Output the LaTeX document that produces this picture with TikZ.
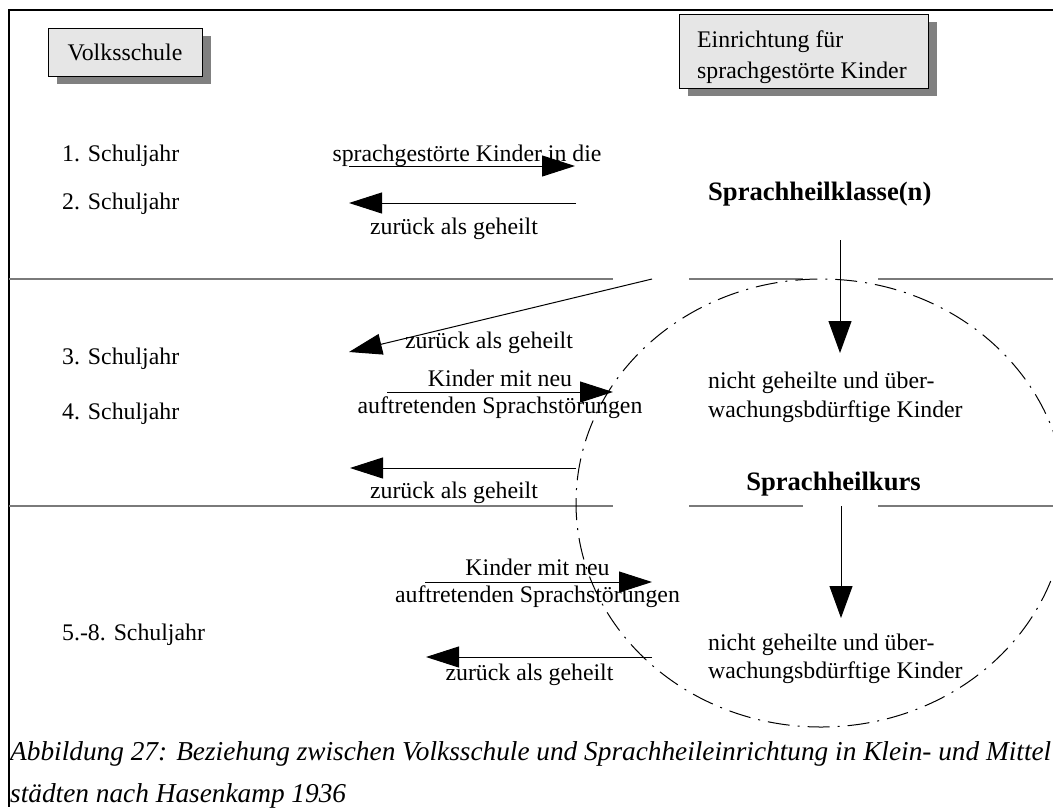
\documentclass[tikz,border=0pt]{standalone}
\usepackage{fontspec}
\setmainfont{Liberation Serif}
\usetikzlibrary{arrows.meta,shadows}
\definecolor{boxfill}{HTML}{E6E6E6}
\definecolor{shadowgray}{HTML}{808080}
\definecolor{rulegray}{HTML}{7A7A7A}

\begin{document}
\begin{tikzpicture}[x=1pt,y=-1pt,
  txt/.style={font=\fontsize{23.8}{29}\selectfont, inner sep=0pt},
  head/.style={font=\fontsize{26.6}{32}\selectfont\bfseries, inner sep=0pt},
  captiontext/.style={font=\fontsize{27.3}{42}\selectfont\itshape, inner sep=0pt},
  titlebox/.style={draw=black, line width=1pt, fill=boxfill, inner sep=0pt,
    general shadow={fill=shadowgray, shadow xshift=9pt, shadow yshift=-8pt}},
  flow/.style={line width=1pt, -{Triangle[length=33pt,width=21pt]}},
  downflow/.style={line width=1pt, -{Triangle[length=32pt,width=23pt]}},
  divider/.style={draw=rulegray, line width=1.3pt},
  frame/.style={line width=1.3pt},
  ring/.style={line width=1pt, dash pattern=on 22pt off 8pt on 2pt off 8pt}
]
\useasboundingbox (0,0) rectangle (1053,807);
\clip (0,0) rectangle (1053,807);

% outer frame (open to the right and bottom)
\coordinate (fr1) at (1053,10);
\coordinate (fr2) at (9,10);
\coordinate (fr3) at (9,807);
\draw[frame] (fr1) -- (fr2) -- (fr3);

% row dividers, interrupted around the right-hand labels
\foreach \y/\n in {279/1,506/2}{
  \coordinate (d\n a) at (9,\y);   \coordinate (d\n b) at (613,\y);
  \coordinate (d\n c) at (689,\y); \coordinate (d\n d) at (803,\y);
  \coordinate (d\n e) at (878,\y); \coordinate (d\n f) at (1053,\y);
  \draw[divider] (d\n a) -- (d\n b);
  \draw[divider] (d\n c) -- (d\n d);
  \draw[divider] (d\n e) -- (d\n f);
}

% column headings
\node[titlebox, txt, minimum width=154pt, minimum height=48pt] (vs) at (125,52) {Volksschule};
\node[titlebox, minimum width=249pt, minimum height=74pt] (ein) at (803.5,51) {};
\node[txt, anchor=base west] (ein1) at (697,47) {Einrichtung für};
\node[txt, anchor=base west] (ein2) at (697,78) {sprachgestörte Kinder};

% school years
\node[txt, anchor=base west] (y1) at (62,161) {1. Schuljahr};
\node[txt, anchor=base west] (y2) at (62,209) {2. Schuljahr};
\node[txt, anchor=base west] (y3) at (62,364) {3. Schuljahr};
\node[txt, anchor=base west] (y4) at (62,419) {4. Schuljahr};
\node[txt, anchor=base west] (y58) at (62,640) {5.-8. Schuljahr};

% special institutions
\node[head, anchor=base west] (klasse) at (708,200) {Sprachheilklasse(n)};
\node[head, anchor=base] (kurs) at (833.5,490) {Sprachheilkurs};
\node[txt, anchor=base west] (nh1a) at (708,388) {nicht geheilte und über-};
\node[txt, anchor=base west] (nh1b) at (708,417) {wachungsbdürftige Kinder};
\node[txt, anchor=base west] (nh2a) at (708,650) {nicht geheilte und über-};
\node[txt, anchor=base west] (nh2b) at (708,678) {wachungsbdürftige Kinder};

% arrow labels
\node[txt, anchor=base] (l1) at (467,161) {sprachgestörte Kinder in die};
\node[txt, anchor=base] (l2) at (454,234) {zurück als geheilt};
\node[txt, anchor=base] (l3) at (489,348) {zurück als geheilt};
\node[txt, anchor=base] (l4a) at (500,386) {Kinder mit neu};
\node[txt, anchor=base] (l4b) at (500,413) {auftretenden Sprachstörungen};
\node[txt, anchor=base] (l5) at (454,498) {zurück als geheilt};
\node[txt, anchor=base] (l6a) at (537.5,575) {Kinder mit neu};
\node[txt, anchor=base] (l6b) at (537.5,602) {auftretenden Sprachstörungen};
\node[txt, anchor=base] (l7) at (529.5,680) {zurück als geheilt};

% arrow end points
\coordinate (a1s) at (349,166); \coordinate (a1e) at (575,166);
\coordinate (a2s) at (576,203); \coordinate (a2e) at (349,203);
\coordinate (a3s) at (652,279); \coordinate (a3e) at (349,352);
\coordinate (a4s) at (387,392); \coordinate (a4e) at (613,392);
\coordinate (a5s) at (576,468); \coordinate (a5e) at (350,468);
\coordinate (a6s) at (425,582); \coordinate (a6e) at (652,582);
\coordinate (a7s) at (652,657); \coordinate (a7e) at (426,657);
\coordinate (v1s) at (840,240); \coordinate (v1e) at (840,353);
\coordinate (v2s) at (841,506); \coordinate (v2e) at (841,618);

\draw[flow] (a1s) -- (a1e);
\draw[flow] (a2s) -- (a2e);
\draw[flow] (a3s) -- (a3e);
\draw[flow] (a4s) -- (a4e);
\draw[flow] (a5s) -- (a5e);
\draw[flow] (a6s) -- (a6e);
\draw[flow] (a7s) -- (a7e);
\draw[downflow] (v1s) -- (v1e);
\draw[downflow] (v2s) -- (v2e);

% area served by the course
\coordinate (rc) at (821,503);
\draw[ring] (rc) ellipse [x radius=245, y radius=224];

% caption
\node[captiontext, anchor=base west] (cap1) at (10,760) {Abbildung 27: Beziehung zwischen Volksschule und Sprachheileinrichtung in Klein- und Mittel};
\node[captiontext, anchor=base west] (cap2) at (10,802) {städten nach Hasenkamp 1936};
\end{tikzpicture}
\end{document}
